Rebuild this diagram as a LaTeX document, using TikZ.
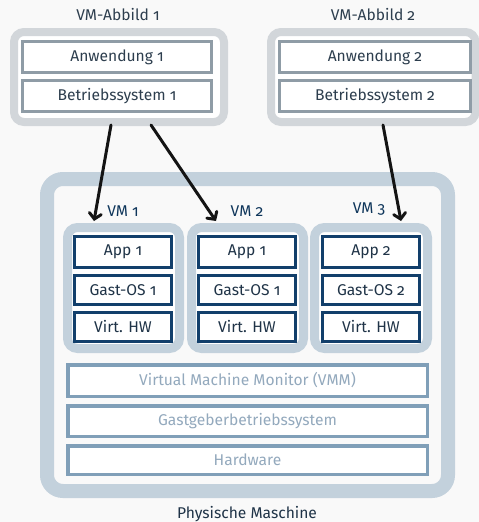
\documentclass[tikz,border=0pt]{standalone}
\usepackage{fontspec}
\setmainfont{Fira Sans}[Numbers=OldStyle]
\usetikzlibrary{arrows.meta}
\definecolor{bg}{HTML}{F9F9F9}
\definecolor{abbborder}{HTML}{D2D6DA}
\definecolor{abbbox}{HTML}{8F9CA6}
\definecolor{abbtext}{HTML}{2D3E4E}
\definecolor{physborder}{HTML}{C3D1DC}
\definecolor{vmdark}{HTML}{123F6B}
\definecolor{vmtext}{HTML}{1F3347}
\definecolor{hostborder}{HTML}{809FB8}
\definecolor{hosttext}{HTML}{93A9BD}
\definecolor{arrowcol}{HTML}{141414}
\begin{document}
\begin{tikzpicture}[x=1pt,y=-1pt,
  every node/.style={font=\fontsize{15.6}{18}\selectfont, inner sep=0pt, outer sep=0pt},
  abbouter/.style={draw=abbborder, line width=8pt, fill=white, rounded corners=10pt},
  abbinner/.style={draw=abbbox, line width=3pt, fill=white, text=abbtext},
  physouter/.style={draw=physborder, line width=14pt, fill=bg, rounded corners=16pt},
  vmouter/.style={draw=physborder, line width=9pt, fill=white, rounded corners=10pt},
  vminner/.style={draw=vmdark, line width=3pt, fill=white, text=vmtext},
  hostbox/.style={draw=hostborder, line width=3.5pt, fill=white, text=hosttext},
  lbl/.style={text=abbtext},
  vmlbl/.style={text=vmdark!85!black},
  arr/.style={draw=arrowcol, line width=3pt, line cap=round, -{Straight Barb[length=5.5pt,width=12pt,line cap=round]}}
]
\useasboundingbox (0,0) rectangle (479,522);
\fill[bg] (0,0) rectangle (479,522);

% VM images
\node[lbl] (t1) at (118,15) {VM-Abbild 1};
\node[lbl] (t2) at (373,15) {VM-Abbild 2};
\node[abbouter, minimum width=210pt, minimum height=90pt] (abb1) at (119,77) {};
\node[abbouter, minimum width=204.5pt, minimum height=90pt] (abb2) at (373.25,77) {};
\node[abbinner, minimum width=189pt, minimum height=31pt] (an1) at (117,57) {Anwendung 1};
\node[abbinner, minimum width=189pt, minimum height=31pt] (bs1) at (117,96) {Betriebssystem 1};
\node[abbinner, minimum width=191pt, minimum height=31pt] (an2) at (375,57) {Anwendung 2};
\node[abbinner, minimum width=191pt, minimum height=31pt] (bs2) at (375,96) {Betriebssystem 2};

% physical machine
\node[physouter, minimum width=401pt, minimum height=312pt] (phys) at (247.5,335) {};
\node[text=vmtext] (physlbl) at (247,514) {Physische Maschine};

% VMs
\node[vmouter, minimum width=112pt, minimum height=121pt] (vm1) at (123.5,288) {};
\node[vmouter, minimum width=112pt, minimum height=121pt] (vm2) at (247.5,288) {};
\node[vmouter, minimum width=113pt, minimum height=121pt] (vm3) at (371,288) {};
\node[vmlbl] (vl1) at (123,211) {VM 1};
\node[vmlbl] (vl2) at (247,211) {VM 2};
\node[vmlbl] (vl3) at (369,209) {VM 3};

\foreach \n/\cx/\a/\g in {1/123/1/1, 2/247/1/1, 3/371/2/2}{
  \node[vminner, minimum width=97pt, minimum height=31pt] (app\n) at (\cx,252) {App \a};
  \node[vminner, minimum width=97pt, minimum height=29pt] (gos\n) at (\cx,290) {Gast-OS \g};
  \node[vminner, minimum width=97pt, minimum height=29pt] (hw\n) at (\cx,327) {Virt. HW};
}

% host layers
\node[hostbox, minimum width=359.5pt, minimum height=31.5pt] (vmm) at (247.5,380.5) {Virtual Machine Monitor (VMM)};
\node[hostbox, minimum width=359.5pt, minimum height=30.5pt] (hos) at (247.5,421) {Gastgeberbetriebssystem};
\node[hostbox, minimum width=359.5pt, minimum height=28.5pt] (hwr) at (247.5,460) {Hardware};

% arrows
\coordinate (s1) at (111,125);
\coordinate (s2) at (151,125);
\coordinate (s3) at (383,125);
\coordinate (e1) at (94,221);
\coordinate (e2) at (216,221);
\coordinate (e3) at (401,221);
\draw[arr] (s1) -- (e1);
\draw[arr] (s2) -- (e2);
\draw[arr] (s3) -- (e3);
\end{tikzpicture}
\end{document}
